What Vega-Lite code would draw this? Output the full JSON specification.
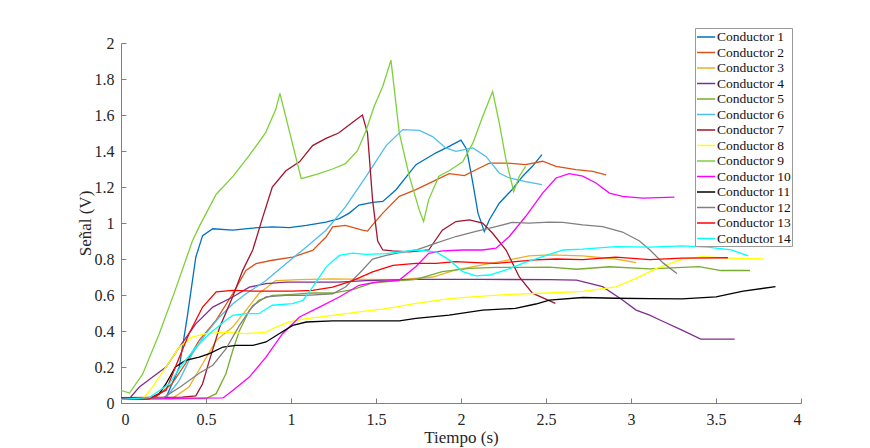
{
"$schema":"https://vega.github.io/schema/vega-lite/v6.json",
"autosize":"none",
"width":680,"height":360,
"padding":{"left":121,"top":43,"right":69,"bottom":45},
"background":"white",
"config":{"view":{"stroke":null}},
"data":{"values":[
{"c":"Conductor 1","t":0,"v":0.025},{"c":"Conductor 1","t":0.15,"v":0.025},{"c":"Conductor 1","t":0.265,"v":0.03},{"c":"Conductor 1","t":0.343,"v":0.2},{"c":"Conductor 1","t":0.39,"v":0.48},{"c":"Conductor 1","t":0.44,"v":0.81},{"c":"Conductor 1","t":0.48,"v":0.93},{"c":"Conductor 1","t":0.54,"v":0.968},{"c":"Conductor 1","t":0.657,"v":0.96},{"c":"Conductor 1","t":0.775,"v":0.972},{"c":"Conductor 1","t":0.89,"v":0.978},{"c":"Conductor 1","t":0.99,"v":0.974},{"c":"Conductor 1","t":1.09,"v":0.987},{"c":"Conductor 1","t":1.206,"v":1.005},{"c":"Conductor 1","t":1.284,"v":1.024},{"c":"Conductor 1","t":1.343,"v":1.055},{"c":"Conductor 1","t":1.4,"v":1.1},{"c":"Conductor 1","t":1.48,"v":1.115},{"c":"Conductor 1","t":1.54,"v":1.12},{"c":"Conductor 1","t":1.618,"v":1.185},{"c":"Conductor 1","t":1.735,"v":1.324},{"c":"Conductor 1","t":1.853,"v":1.39},{"c":"Conductor 1","t":1.93,"v":1.426},{"c":"Conductor 1","t":2.0,"v":1.46},{"c":"Conductor 1","t":2.033,"v":1.41},{"c":"Conductor 1","t":2.07,"v":1.22},{"c":"Conductor 1","t":2.1,"v":1.055},{"c":"Conductor 1","t":2.137,"v":0.953},{"c":"Conductor 1","t":2.167,"v":1.018},{"c":"Conductor 1","t":2.225,"v":1.11},{"c":"Conductor 1","t":2.3,"v":1.185},{"c":"Conductor 1","t":2.363,"v":1.26},{"c":"Conductor 1","t":2.42,"v":1.315},{"c":"Conductor 1","t":2.476,"v":1.38},
{"c":"Conductor 2","t":0,"v":0.025},{"c":"Conductor 2","t":0.2,"v":0.03},{"c":"Conductor 2","t":0.3,"v":0.107},{"c":"Conductor 2","t":0.38,"v":0.22},{"c":"Conductor 2","t":0.46,"v":0.348},{"c":"Conductor 2","t":0.56,"v":0.46},{"c":"Conductor 2","t":0.657,"v":0.607},{"c":"Conductor 2","t":0.735,"v":0.737},{"c":"Conductor 2","t":0.794,"v":0.774},{"c":"Conductor 2","t":0.89,"v":0.793},{"c":"Conductor 2","t":1.01,"v":0.811},{"c":"Conductor 2","t":1.127,"v":0.848},{"c":"Conductor 2","t":1.206,"v":0.922},{"c":"Conductor 2","t":1.245,"v":0.978},{"c":"Conductor 2","t":1.32,"v":0.987},{"c":"Conductor 2","t":1.42,"v":0.96},{"c":"Conductor 2","t":1.45,"v":0.955},{"c":"Conductor 2","t":1.48,"v":0.99},{"c":"Conductor 2","t":1.54,"v":1.055},{"c":"Conductor 2","t":1.637,"v":1.148},{"c":"Conductor 2","t":1.735,"v":1.185},{"c":"Conductor 2","t":1.833,"v":1.23},{"c":"Conductor 2","t":1.93,"v":1.274},{"c":"Conductor 2","t":2.02,"v":1.263},{"c":"Conductor 2","t":2.088,"v":1.296},{"c":"Conductor 2","t":2.167,"v":1.333},{"c":"Conductor 2","t":2.265,"v":1.333},{"c":"Conductor 2","t":2.38,"v":1.324},{"c":"Conductor 2","t":2.48,"v":1.343},{"c":"Conductor 2","t":2.559,"v":1.315},{"c":"Conductor 2","t":2.676,"v":1.296},{"c":"Conductor 2","t":2.775,"v":1.287},{"c":"Conductor 2","t":2.853,"v":1.268},
{"c":"Conductor 3","t":0,"v":0.02},{"c":"Conductor 3","t":0.3,"v":0.025},{"c":"Conductor 3","t":0.4,"v":0.089},{"c":"Conductor 3","t":0.48,"v":0.218},{"c":"Conductor 3","t":0.56,"v":0.348},{"c":"Conductor 3","t":0.657,"v":0.422},{"c":"Conductor 3","t":0.735,"v":0.515},{"c":"Conductor 3","t":0.81,"v":0.607},{"c":"Conductor 3","t":0.91,"v":0.68},{"c":"Conductor 3","t":1.05,"v":0.685},{"c":"Conductor 3","t":1.245,"v":0.69},{"c":"Conductor 3","t":1.44,"v":0.687},{"c":"Conductor 3","t":1.637,"v":0.685},{"c":"Conductor 3","t":1.833,"v":0.7},{"c":"Conductor 3","t":1.97,"v":0.739},{"c":"Conductor 3","t":2.127,"v":0.767},{"c":"Conductor 3","t":2.284,"v":0.795},{"c":"Conductor 3","t":2.4,"v":0.817},{"c":"Conductor 3","t":2.52,"v":0.823},{"c":"Conductor 3","t":2.716,"v":0.817},{"c":"Conductor 3","t":2.91,"v":0.8},{"c":"Conductor 3","t":3.03,"v":0.78},
{"c":"Conductor 4","t":0,"v":0.02},{"c":"Conductor 4","t":0.05,"v":0.025},{"c":"Conductor 4","t":0.108,"v":0.089},{"c":"Conductor 4","t":0.186,"v":0.144},{"c":"Conductor 4","t":0.265,"v":0.2},{"c":"Conductor 4","t":0.343,"v":0.311},{"c":"Conductor 4","t":0.44,"v":0.44},{"c":"Conductor 4","t":0.54,"v":0.533},{"c":"Conductor 4","t":0.657,"v":0.589},{"c":"Conductor 4","t":0.755,"v":0.644},{"c":"Conductor 4","t":0.853,"v":0.663},{"c":"Conductor 4","t":0.97,"v":0.672},{"c":"Conductor 4","t":1.127,"v":0.672},{"c":"Conductor 4","t":1.28,"v":0.672},{"c":"Conductor 4","t":1.44,"v":0.68},{"c":"Conductor 4","t":1.735,"v":0.687},{"c":"Conductor 4","t":2.127,"v":0.687},{"c":"Conductor 4","t":2.52,"v":0.685},{"c":"Conductor 4","t":2.68,"v":0.683},{"c":"Conductor 4","t":2.833,"v":0.646},{"c":"Conductor 4","t":2.95,"v":0.572},{"c":"Conductor 4","t":3.03,"v":0.516},{"c":"Conductor 4","t":3.11,"v":0.488},{"c":"Conductor 4","t":3.17,"v":0.461},{"c":"Conductor 4","t":3.3,"v":0.405},{"c":"Conductor 4","t":3.41,"v":0.355},{"c":"Conductor 4","t":3.61,"v":0.355},
{"c":"Conductor 5","t":0,"v":0.02},{"c":"Conductor 5","t":0.5,"v":0.025},{"c":"Conductor 5","t":0.56,"v":0.052},{"c":"Conductor 5","t":0.617,"v":0.163},{"c":"Conductor 5","t":0.657,"v":0.29},{"c":"Conductor 5","t":0.696,"v":0.4},{"c":"Conductor 5","t":0.755,"v":0.515},{"c":"Conductor 5","t":0.81,"v":0.57},{"c":"Conductor 5","t":0.89,"v":0.598},{"c":"Conductor 5","t":1.01,"v":0.604},{"c":"Conductor 5","t":1.127,"v":0.611},{"c":"Conductor 5","t":1.245,"v":0.611},{"c":"Conductor 5","t":1.363,"v":0.63},{"c":"Conductor 5","t":1.48,"v":0.667},{"c":"Conductor 5","t":1.637,"v":0.68},{"c":"Conductor 5","t":1.735,"v":0.687},{"c":"Conductor 5","t":1.89,"v":0.73},{"c":"Conductor 5","t":2.05,"v":0.748},{"c":"Conductor 5","t":2.206,"v":0.754},{"c":"Conductor 5","t":2.363,"v":0.754},{"c":"Conductor 5","t":2.52,"v":0.755},{"c":"Conductor 5","t":2.68,"v":0.743},{"c":"Conductor 5","t":2.873,"v":0.757},{"c":"Conductor 5","t":3.11,"v":0.745},{"c":"Conductor 5","t":3.4,"v":0.758},{"c":"Conductor 5","t":3.53,"v":0.736},{"c":"Conductor 5","t":3.7,"v":0.736},
{"c":"Conductor 6","t":0,"v":0.02},{"c":"Conductor 6","t":0.265,"v":0.03},{"c":"Conductor 6","t":0.343,"v":0.126},{"c":"Conductor 6","t":0.42,"v":0.274},{"c":"Conductor 6","t":0.5,"v":0.385},{"c":"Conductor 6","t":0.58,"v":0.478},{"c":"Conductor 6","t":0.657,"v":0.55},{"c":"Conductor 6","t":0.735,"v":0.607},{"c":"Conductor 6","t":0.853,"v":0.68},{"c":"Conductor 6","t":0.97,"v":0.774},{"c":"Conductor 6","t":1.09,"v":0.867},{"c":"Conductor 6","t":1.206,"v":0.96},{"c":"Conductor 6","t":1.32,"v":1.09},{"c":"Conductor 6","t":1.44,"v":1.256},{"c":"Conductor 6","t":1.56,"v":1.43},{"c":"Conductor 6","t":1.657,"v":1.519},{"c":"Conductor 6","t":1.755,"v":1.515},{"c":"Conductor 6","t":1.833,"v":1.48},{"c":"Conductor 6","t":1.91,"v":1.417},{"c":"Conductor 6","t":1.97,"v":1.398},{"c":"Conductor 6","t":2.07,"v":1.417},{"c":"Conductor 6","t":2.147,"v":1.37},{"c":"Conductor 6","t":2.225,"v":1.278},{"c":"Conductor 6","t":2.284,"v":1.25},{"c":"Conductor 6","t":2.38,"v":1.23},{"c":"Conductor 6","t":2.476,"v":1.213},
{"c":"Conductor 7","t":0,"v":0.03},{"c":"Conductor 7","t":0.36,"v":0.033},{"c":"Conductor 7","t":0.44,"v":0.04},{"c":"Conductor 7","t":0.48,"v":0.107},{"c":"Conductor 7","t":0.52,"v":0.237},{"c":"Conductor 7","t":0.58,"v":0.42},{"c":"Conductor 7","t":0.657,"v":0.59},{"c":"Conductor 7","t":0.716,"v":0.737},{"c":"Conductor 7","t":0.775,"v":0.85},{"c":"Conductor 7","t":0.833,"v":1.03},{"c":"Conductor 7","t":0.89,"v":1.2},{"c":"Conductor 7","t":0.97,"v":1.29},{"c":"Conductor 7","t":1.05,"v":1.34},{"c":"Conductor 7","t":1.127,"v":1.43},{"c":"Conductor 7","t":1.206,"v":1.47},{"c":"Conductor 7","t":1.28,"v":1.5},{"c":"Conductor 7","t":1.363,"v":1.56},{"c":"Conductor 7","t":1.42,"v":1.6},{"c":"Conductor 7","t":1.45,"v":1.5},{"c":"Conductor 7","t":1.48,"v":1.126},{"c":"Conductor 7","t":1.51,"v":0.9},{"c":"Conductor 7","t":1.54,"v":0.85},{"c":"Conductor 7","t":1.598,"v":0.845},{"c":"Conductor 7","t":1.696,"v":0.84},{"c":"Conductor 7","t":1.81,"v":0.85},{"c":"Conductor 7","t":1.89,"v":0.96},{"c":"Conductor 7","t":1.97,"v":1.008},{"c":"Conductor 7","t":2.05,"v":1.017},{"c":"Conductor 7","t":2.127,"v":1.0},{"c":"Conductor 7","t":2.186,"v":0.943},{"c":"Conductor 7","t":2.265,"v":0.85},{"c":"Conductor 7","t":2.343,"v":0.7},{"c":"Conductor 7","t":2.42,"v":0.61},{"c":"Conductor 7","t":2.555,"v":0.553},
{"c":"Conductor 8","t":0,"v":0.02},{"c":"Conductor 8","t":0.13,"v":0.025},{"c":"Conductor 8","t":0.186,"v":0.089},{"c":"Conductor 8","t":0.265,"v":0.2},{"c":"Conductor 8","t":0.343,"v":0.311},{"c":"Conductor 8","t":0.42,"v":0.367},{"c":"Conductor 8","t":0.5,"v":0.385},{"c":"Conductor 8","t":0.617,"v":0.394},{"c":"Conductor 8","t":0.735,"v":0.385},{"c":"Conductor 8","t":0.853,"v":0.394},{"c":"Conductor 8","t":0.91,"v":0.422},{"c":"Conductor 8","t":0.99,"v":0.45},{"c":"Conductor 8","t":1.09,"v":0.469},{"c":"Conductor 8","t":1.245,"v":0.487},{"c":"Conductor 8","t":1.4,"v":0.506},{"c":"Conductor 8","t":1.56,"v":0.524},{"c":"Conductor 8","t":1.735,"v":0.553},{"c":"Conductor 8","t":1.93,"v":0.58},{"c":"Conductor 8","t":2.127,"v":0.594},{"c":"Conductor 8","t":2.32,"v":0.605},{"c":"Conductor 8","t":2.52,"v":0.611},{"c":"Conductor 8","t":2.716,"v":0.62},{"c":"Conductor 8","t":2.91,"v":0.645},{"c":"Conductor 8","t":3.03,"v":0.692},{"c":"Conductor 8","t":3.15,"v":0.748},{"c":"Conductor 8","t":3.3,"v":0.798},{"c":"Conductor 8","t":3.42,"v":0.813},{"c":"Conductor 8","t":3.59,"v":0.805},{"c":"Conductor 8","t":3.78,"v":0.8},
{"c":"Conductor 9","t":0,"v":0.07},{"c":"Conductor 9","t":0.05,"v":0.055},{"c":"Conductor 9","t":0.127,"v":0.16},{"c":"Conductor 9","t":0.225,"v":0.385},{"c":"Conductor 9","t":0.32,"v":0.63},{"c":"Conductor 9","t":0.42,"v":0.9},{"c":"Conductor 9","t":0.46,"v":0.98},{"c":"Conductor 9","t":0.56,"v":1.16},{"c":"Conductor 9","t":0.66,"v":1.26},{"c":"Conductor 9","t":0.75,"v":1.37},{"c":"Conductor 9","t":0.85,"v":1.5},{"c":"Conductor 9","t":0.91,"v":1.63},{"c":"Conductor 9","t":0.935,"v":1.72},{"c":"Conductor 9","t":1.06,"v":1.246},{"c":"Conductor 9","t":1.15,"v":1.27},{"c":"Conductor 9","t":1.245,"v":1.3},{"c":"Conductor 9","t":1.32,"v":1.33},{"c":"Conductor 9","t":1.39,"v":1.4},{"c":"Conductor 9","t":1.44,"v":1.51},{"c":"Conductor 9","t":1.49,"v":1.65},{"c":"Conductor 9","t":1.54,"v":1.76},{"c":"Conductor 9","t":1.588,"v":1.905},{"c":"Conductor 9","t":1.637,"v":1.5},{"c":"Conductor 9","t":1.696,"v":1.26},{"c":"Conductor 9","t":1.755,"v":1.07},{"c":"Conductor 9","t":1.78,"v":1.008},{"c":"Conductor 9","t":1.81,"v":1.13},{"c":"Conductor 9","t":1.87,"v":1.26},{"c":"Conductor 9","t":1.93,"v":1.29},{"c":"Conductor 9","t":2.01,"v":1.34},{"c":"Conductor 9","t":2.07,"v":1.445},{"c":"Conductor 9","t":2.127,"v":1.59},{"c":"Conductor 9","t":2.186,"v":1.73},{"c":"Conductor 9","t":2.225,"v":1.556},{"c":"Conductor 9","t":2.265,"v":1.35},{"c":"Conductor 9","t":2.31,"v":1.175},{"c":"Conductor 9","t":2.343,"v":1.26},{"c":"Conductor 9","t":2.38,"v":1.315},
{"c":"Conductor 10","t":0,"v":0.025},{"c":"Conductor 10","t":0.6,"v":0.028},{"c":"Conductor 10","t":0.657,"v":0.07},{"c":"Conductor 10","t":0.755,"v":0.144},{"c":"Conductor 10","t":0.853,"v":0.255},{"c":"Conductor 10","t":0.95,"v":0.385},{"c":"Conductor 10","t":1.05,"v":0.478},{"c":"Conductor 10","t":1.167,"v":0.533},{"c":"Conductor 10","t":1.284,"v":0.589},{"c":"Conductor 10","t":1.4,"v":0.654},{"c":"Conductor 10","t":1.5,"v":0.672},{"c":"Conductor 10","t":1.637,"v":0.683},{"c":"Conductor 10","t":1.735,"v":0.758},{"c":"Conductor 10","t":1.81,"v":0.832},{"c":"Conductor 10","t":1.89,"v":0.845},{"c":"Conductor 10","t":2.01,"v":0.85},{"c":"Conductor 10","t":2.127,"v":0.85},{"c":"Conductor 10","t":2.206,"v":0.86},{"c":"Conductor 10","t":2.284,"v":0.925},{"c":"Conductor 10","t":2.38,"v":1.036},{"c":"Conductor 10","t":2.48,"v":1.166},{"c":"Conductor 10","t":2.559,"v":1.25},{"c":"Conductor 10","t":2.637,"v":1.274},{"c":"Conductor 10","t":2.716,"v":1.26},{"c":"Conductor 10","t":2.794,"v":1.222},{"c":"Conductor 10","t":2.873,"v":1.166},{"c":"Conductor 10","t":2.95,"v":1.148},{"c":"Conductor 10","t":3.07,"v":1.138},{"c":"Conductor 10","t":3.255,"v":1.144},
{"c":"Conductor 11","t":0,"v":0.02},{"c":"Conductor 11","t":0.167,"v":0.025},{"c":"Conductor 11","t":0.225,"v":0.052},{"c":"Conductor 11","t":0.265,"v":0.107},{"c":"Conductor 11","t":0.32,"v":0.2},{"c":"Conductor 11","t":0.38,"v":0.237},{"c":"Conductor 11","t":0.46,"v":0.255},{"c":"Conductor 11","t":0.52,"v":0.274},{"c":"Conductor 11","t":0.6,"v":0.311},{"c":"Conductor 11","t":0.676,"v":0.32},{"c":"Conductor 11","t":0.775,"v":0.32},{"c":"Conductor 11","t":0.853,"v":0.339},{"c":"Conductor 11","t":0.93,"v":0.385},{"c":"Conductor 11","t":1.01,"v":0.431},{"c":"Conductor 11","t":1.09,"v":0.45},{"c":"Conductor 11","t":1.245,"v":0.456},{"c":"Conductor 11","t":1.44,"v":0.456},{"c":"Conductor 11","t":1.637,"v":0.456},{"c":"Conductor 11","t":1.735,"v":0.47},{"c":"Conductor 11","t":1.93,"v":0.488},{"c":"Conductor 11","t":2.127,"v":0.516},{"c":"Conductor 11","t":2.32,"v":0.526},{"c":"Conductor 11","t":2.44,"v":0.55},{"c":"Conductor 11","t":2.52,"v":0.572},{"c":"Conductor 11","t":2.716,"v":0.586},{"c":"Conductor 11","t":2.91,"v":0.582},{"c":"Conductor 11","t":3.11,"v":0.58},{"c":"Conductor 11","t":3.3,"v":0.578},{"c":"Conductor 11","t":3.5,"v":0.59},{"c":"Conductor 11","t":3.66,"v":0.622},{"c":"Conductor 11","t":3.85,"v":0.646},
{"c":"Conductor 12","t":0,"v":0.02},{"c":"Conductor 12","t":0.25,"v":0.03},{"c":"Conductor 12","t":0.35,"v":0.09},{"c":"Conductor 12","t":0.46,"v":0.165},{"c":"Conductor 12","t":0.54,"v":0.21},{"c":"Conductor 12","t":0.617,"v":0.3},{"c":"Conductor 12","t":0.696,"v":0.43},{"c":"Conductor 12","t":0.775,"v":0.54},{"c":"Conductor 12","t":0.853,"v":0.59},{"c":"Conductor 12","t":0.97,"v":0.598},{"c":"Conductor 12","t":1.09,"v":0.598},{"c":"Conductor 12","t":1.245,"v":0.607},{"c":"Conductor 12","t":1.32,"v":0.644},{"c":"Conductor 12","t":1.4,"v":0.718},{"c":"Conductor 12","t":1.48,"v":0.8},{"c":"Conductor 12","t":1.56,"v":0.82},{"c":"Conductor 12","t":1.637,"v":0.835},{"c":"Conductor 12","t":1.735,"v":0.85},{"c":"Conductor 12","t":1.853,"v":0.888},{"c":"Conductor 12","t":1.97,"v":0.925},{"c":"Conductor 12","t":2.088,"v":0.953},{"c":"Conductor 12","t":2.206,"v":0.98},{"c":"Conductor 12","t":2.3,"v":1.003},{"c":"Conductor 12","t":2.4,"v":0.999},{"c":"Conductor 12","t":2.52,"v":1.005},{"c":"Conductor 12","t":2.6,"v":1.003},{"c":"Conductor 12","t":2.716,"v":0.99},{"c":"Conductor 12","t":2.833,"v":0.98},{"c":"Conductor 12","t":2.95,"v":0.95},{"c":"Conductor 12","t":3.05,"v":0.9},{"c":"Conductor 12","t":3.11,"v":0.851},{"c":"Conductor 12","t":3.19,"v":0.777},{"c":"Conductor 12","t":3.27,"v":0.72},
{"c":"Conductor 13","t":0,"v":0.02},{"c":"Conductor 13","t":0.167,"v":0.025},{"c":"Conductor 13","t":0.265,"v":0.07},{"c":"Conductor 13","t":0.32,"v":0.2},{"c":"Conductor 13","t":0.4,"v":0.385},{"c":"Conductor 13","t":0.48,"v":0.533},{"c":"Conductor 13","t":0.56,"v":0.617},{"c":"Conductor 13","t":0.657,"v":0.626},{"c":"Conductor 13","t":0.775,"v":0.622},{"c":"Conductor 13","t":0.89,"v":0.622},{"c":"Conductor 13","t":1.01,"v":0.622},{"c":"Conductor 13","t":1.127,"v":0.626},{"c":"Conductor 13","t":1.245,"v":0.644},{"c":"Conductor 13","t":1.363,"v":0.68},{"c":"Conductor 13","t":1.48,"v":0.728},{"c":"Conductor 13","t":1.6,"v":0.765},{"c":"Conductor 13","t":1.735,"v":0.776},{"c":"Conductor 13","t":1.853,"v":0.776},{"c":"Conductor 13","t":1.97,"v":0.785},{"c":"Conductor 13","t":2.088,"v":0.78},{"c":"Conductor 13","t":2.206,"v":0.776},{"c":"Conductor 13","t":2.32,"v":0.785},{"c":"Conductor 13","t":2.44,"v":0.795},{"c":"Conductor 13","t":2.559,"v":0.8},{"c":"Conductor 13","t":2.716,"v":0.796},{"c":"Conductor 13","t":2.91,"v":0.81},{"c":"Conductor 13","t":3.11,"v":0.796},{"c":"Conductor 13","t":3.3,"v":0.805},{"c":"Conductor 13","t":3.57,"v":0.807},
{"c":"Conductor 14","t":0,"v":0.02},{"c":"Conductor 14","t":0.167,"v":0.03},{"c":"Conductor 14","t":0.284,"v":0.107},{"c":"Conductor 14","t":0.363,"v":0.218},{"c":"Conductor 14","t":0.44,"v":0.31},{"c":"Conductor 14","t":0.52,"v":0.385},{"c":"Conductor 14","t":0.617,"v":0.46},{"c":"Conductor 14","t":0.657,"v":0.487},{"c":"Conductor 14","t":0.735,"v":0.496},{"c":"Conductor 14","t":0.81,"v":0.496},{"c":"Conductor 14","t":0.89,"v":0.543},{"c":"Conductor 14","t":1.01,"v":0.552},{"c":"Conductor 14","t":1.07,"v":0.57},{"c":"Conductor 14","t":1.127,"v":0.644},{"c":"Conductor 14","t":1.206,"v":0.755},{"c":"Conductor 14","t":1.284,"v":0.82},{"c":"Conductor 14","t":1.363,"v":0.833},{"c":"Conductor 14","t":1.44,"v":0.826},{"c":"Conductor 14","t":1.56,"v":0.83},{"c":"Conductor 14","t":1.735,"v":0.85},{"c":"Conductor 14","t":1.853,"v":0.84},{"c":"Conductor 14","t":1.93,"v":0.795},{"c":"Conductor 14","t":2.01,"v":0.73},{"c":"Conductor 14","t":2.088,"v":0.706},{"c":"Conductor 14","t":2.167,"v":0.711},{"c":"Conductor 14","t":2.265,"v":0.739},{"c":"Conductor 14","t":2.363,"v":0.776},{"c":"Conductor 14","t":2.48,"v":0.813},{"c":"Conductor 14","t":2.6,"v":0.85},{"c":"Conductor 14","t":2.716,"v":0.855},{"c":"Conductor 14","t":2.91,"v":0.869},{"c":"Conductor 14","t":3.11,"v":0.866},{"c":"Conductor 14","t":3.3,"v":0.873},{"c":"Conductor 14","t":3.45,"v":0.866},{"c":"Conductor 14","t":3.59,"v":0.851},{"c":"Conductor 14","t":3.69,"v":0.817}
]},
"mark":{"type":"line","strokeWidth":1.3,"clip":true},
"encoding":{
"x":{"field":"t","type":"quantitative","title":"Tiempo (s)","scale":{"domain":[0,4],"nice":false},"axis":{"values":[0,0.5,1,1.5,2,2.5,3,3.5,4],"format":"~g","grid":false,"domainColor":"#808080","tickColor":"#808080","tickSize":-5,"labelPadding":13,"labelFont":"Liberation Serif","labelFontSize":16,"labelColor":"#262626","titleFont":"Liberation Serif","titleFontSize":17,"titleFontWeight":"normal","titleColor":"#262626","titlePadding":0,"titleBaseline":"middle","titleY":34}},
"y":{"field":"v","type":"quantitative","title":"Señal (V)","scale":{"domain":[0,2],"nice":false},"axis":{"values":[0,0.2,0.4,0.6,0.8,1,1.2,1.4,1.6,1.8,2],"format":"~g","grid":false,"domainColor":"#808080","tickColor":"#808080","tickSize":-5,"labelPadding":12,"labelFont":"Liberation Serif","labelFontSize":16,"labelColor":"#262626","titleFont":"Liberation Serif","titleFontSize":17,"titleFontWeight":"normal","titleColor":"#262626","titleBaseline":"middle","titleX":-36}},
"color":{"field":"c","type":"nominal","scale":{"domain":["Conductor 1","Conductor 2","Conductor 3","Conductor 4","Conductor 5","Conductor 6","Conductor 7","Conductor 8","Conductor 9","Conductor 10","Conductor 11","Conductor 12","Conductor 13","Conductor 14"],"range":["#0072BD","#D95319","#EDB120","#7E2F8E","#77AC30","#4DBEEE","#A2142F","#FFFF00","#7ED03A","#FF00FF","#000000","#808080","#FF0000","#00FFFF"]},
"legend":{"title":null,"orient":"none","legendX":574,"legendY":-15,"symbolType":"M-1,0H1.6","symbolSize":196,"symbolStrokeWidth":1.5,"labelOffset":5,"rowPadding":0.5,"padding":1,"strokeColor":"#9a9a9a","fillColor":"white","labelLimit":200,"labelFont":"Liberation Serif","labelFontSize":13.5,"labelColor":"#111111"}}
}
}
